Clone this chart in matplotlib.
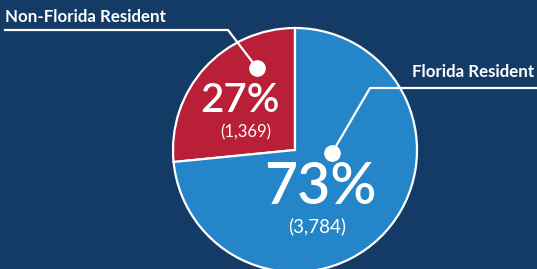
import matplotlib.pyplot as plt
from matplotlib import rcParams

rcParams['font.family'] = ['Lato', 'DejaVu Sans']

labels = ['Non-Florida Resident', 'Florida Resident']
counts = [1369, 3784]
colors = ['#B91F36', '#2585C9']
bg = '#143A66'

total = sum(counts)
pcts = [round(100 * c / total) for c in counts]

fig = plt.figure(figsize=(5.37, 2.69), dpi=100, facecolor=bg)
ax = fig.add_axes([0, 0, 1, 1])
ax.set_facecolor(bg)

H = 269
cx, cy, r = 295, H - 150, 122
ax.pie(counts, colors=colors, startangle=90, counterclock=True,
       center=(cx, cy), radius=r,
       wedgeprops=dict(edgecolor='white', linewidth=1.6))
ax.set_xlim(0, 537)
ax.set_ylim(0, H)
ax.set_axis_off()

# Non-Florida label and leader
ax.text(5, H - 17, labels[0], color='white', fontsize=12.2, fontweight='bold',
        ha='left', va='center')
ax.plot([5, 228, 257], [H - 30, H - 30, H - 68], color='white', lw=1.6)
ax.plot(257, H - 68, 'o', color='white', ms=11)
ax.text(240, H - 101, f'{pcts[0]}%', color='white', fontsize=29,
        fontweight='semibold', ha='center', va='center')
ax.text(246, H - 132, f'({counts[0]:,})', color='white', fontsize=12,
        ha='center', va='center')

# Florida label and leader
ax.text(412, H - 72, labels[1], color='white', fontsize=12.2, fontweight='bold',
        ha='left', va='center')
ax.plot([537, 370, 332], [H - 88, H - 88, H - 153], color='white', lw=1.6)
ax.plot(332, H - 153, 'o', color='white', ms=11)
ax.text(320, H - 188, f'{pcts[1]}%', color='white', fontsize=41,
        fontweight='semibold', ha='center', va='center')
ax.text(317, H - 226, f'({counts[1]:,})', color='white', fontsize=13.5,
        ha='center', va='center')

fig.savefig('out.png', dpi=100, facecolor=bg)
